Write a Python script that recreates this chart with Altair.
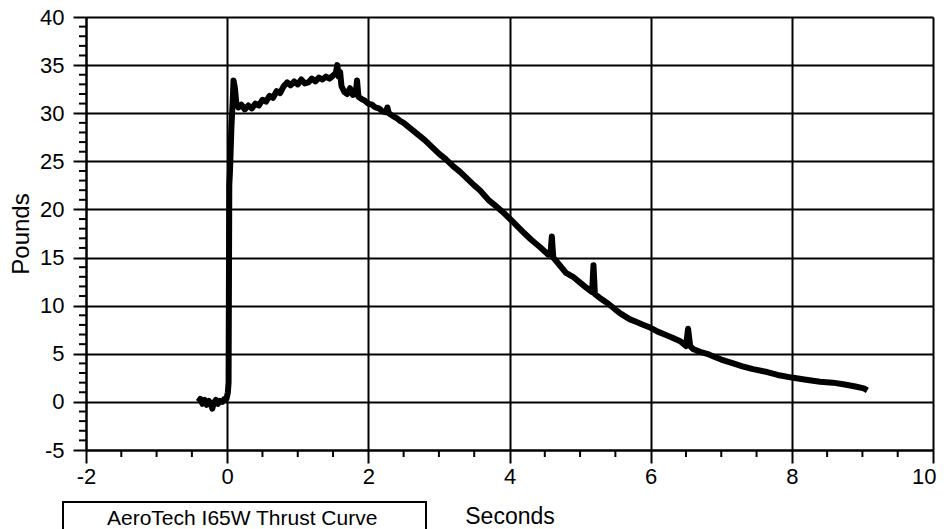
import altair as alt
import pandas as pd

# ---- data ----
seconds = [-0.41, -0.38, -0.35, -0.32, -0.29, -0.26, -0.23, -0.21, -0.19, -0.16, -0.13, -0.10, -0.07, -0.04, -0.01,
           0.01, 0.02, 0.03, 0.04, 0.06, 0.08, 0.09, 0.11, 0.13, 0.16,
           0.20, 0.25, 0.30, 0.35, 0.40, 0.45, 0.50, 0.55, 0.60, 0.65, 0.70, 0.75, 0.80, 0.85, 0.90, 0.95,
           1.00, 1.05, 1.10, 1.15, 1.20, 1.25, 1.30, 1.35, 1.40, 1.45, 1.50, 1.54, 1.56, 1.58, 1.60, 1.62,
           1.66, 1.70, 1.74, 1.78, 1.82, 1.84, 1.86, 1.90, 1.95, 2.00, 2.05, 2.10, 2.15, 2.20, 2.25, 2.27,
           2.29, 2.35, 2.40, 2.45, 2.50, 2.60, 2.70, 2.80, 2.90, 3.00, 3.10, 3.20, 3.30, 3.40, 3.50, 3.58,
           3.70, 3.80, 3.94, 4.05, 4.20, 4.30, 4.43, 4.55, 4.58, 4.60, 4.62, 4.70, 4.80, 4.90, 5.00, 5.10,
           5.17, 5.19, 5.21, 5.28, 5.40, 5.50, 5.57, 5.70, 5.80, 5.90, 6.00, 6.10, 6.20, 6.30, 6.42, 6.50,
           6.53, 6.56, 6.60, 6.70, 6.80, 6.90, 7.00, 7.17, 7.30, 7.45, 7.65, 7.80, 8.02, 8.20, 8.40, 8.58,
           8.75, 8.90, 9.02, 9.07]
pounds = [0.0, 0.3, -0.2, 0.2, -0.3, 0.1, -0.2, -0.7, -0.1, 0.2, -0.2, 0.1, 0.0, 0.3, 0.3,
          1.0, 2.0, 22.5, 24.0, 28.5, 31.5, 33.4, 32.6, 31.0, 30.6,
          30.9, 30.4, 30.8, 30.5, 31.0, 30.8, 31.4, 31.2, 31.8, 31.6, 32.3, 32.1, 32.8, 33.2, 32.9, 33.3,
          33.0, 33.5, 33.1, 33.2, 33.6, 33.3, 33.7, 33.5, 33.8, 33.6, 33.9, 34.2, 35.0, 33.8, 34.3, 32.8,
          32.2, 32.0, 32.6, 31.9, 32.0, 33.4, 31.7, 31.5, 31.3, 31.0, 30.9, 30.6, 30.5, 30.2, 30.1, 30.6,
          30.0, 29.7, 29.5, 29.2, 29.0, 28.4, 27.8, 27.2, 26.5, 25.8, 25.2, 24.5, 23.9, 23.2, 22.5, 22.0,
          21.0, 20.4, 19.5, 18.7, 17.6, 16.9, 16.1, 15.3, 15.4, 17.2, 15.0, 14.3, 13.4, 13.0, 12.4, 11.8,
          11.4, 14.2, 11.2, 10.8, 10.2, 9.6, 9.2, 8.6, 8.3, 8.0, 7.7, 7.3, 7.0, 6.7, 6.3, 5.8,
          7.6, 5.8, 5.5, 5.2, 5.0, 4.7, 4.4, 4.0, 3.7, 3.4, 3.1, 2.8, 2.5, 2.3, 2.1, 2.0,
          1.8, 1.6, 1.4, 1.2]

x_ticks = [-2, 0, 2, 4, 6, 8, 10]
y_ticks = [-5, 0, 5, 10, 15, 20, 25, 30, 35, 40]
x_minor = [-1.5, -1, -0.5, 0.5, 1, 1.5, 2.5, 3, 3.5, 4.5, 5, 5.5, 6.5, 7, 7.5, 8.5, 9, 9.5]
y_minor = [v for v in range(-4, 40) if v % 5 != 0]
legend_label = ["AeroTech I65W Thrust Curve"]

FONT = "Liberation Sans"
W, H = 847, 433

curve_df = pd.DataFrame({"t": seconds, "v": pounds})
xm_df = pd.DataFrame({"t": x_minor})
ym_df = pd.DataFrame({"v": y_minor})
lab_df = pd.DataFrame({"label": legend_label})

xscale = alt.Scale(domain=[-2, 10], nice=False, zero=False)
yscale = alt.Scale(domain=[-5, 40], nice=False, zero=False)

x_axis = alt.Axis(
    values=x_ticks, grid=True, gridColor="black", gridWidth=2, gridOpacity=1,
    domainColor="black", domainWidth=2, tickColor="black", tickWidth=2, tickSize=13,
    labelFont=FONT, labelFontSize=22, labelColor="black", labelPadding=3,
    labelExpr="datum.value + ''",
    labelAlign={"condition": {"test": "datum.value >= 10", "value": "right"}, "value": "center"},
    labelOffset={"condition": {"test": "datum.value >= 10", "value": 3}, "value": 0},
    title="Seconds", titleFont=FONT, titleFontSize=23, titleFontWeight="normal",
    titleColor="black", titleX=W / 2, titleY=73, titleBaseline="alphabetic", titleAlign="center",
)
y_axis = alt.Axis(
    values=y_ticks, grid=True, gridColor="black", gridWidth=2, gridOpacity=1,
    domainColor="black", domainWidth=2, tickColor="black", tickWidth=2, tickSize=13,
    labelFont=FONT, labelFontSize=22, labelColor="black", labelPadding=9,
    labelExpr="datum.value + ''", labelFlush=False,
    title="Pounds", titleFont=FONT, titleFontSize=24, titleFontWeight="normal",
    titleColor="black", titleX=-58, titleY=H / 2, titleAngle=270,
    titleBaseline="alphabetic", titleAlign="center",
)

curve = alt.Chart(curve_df).mark_line(color="black", strokeWidth=6, strokeJoin="round").encode(
    x=alt.X("t:Q", scale=xscale, axis=x_axis),
    y=alt.Y("v:Q", scale=yscale, axis=y_axis),
)

x_minor_ticks = alt.Chart(xm_df).mark_rule(color="black", strokeWidth=2).encode(
    x=alt.X("t:Q", scale=xscale, axis=x_axis),
    y=alt.value(H), y2=alt.value(H + 7),
)
y_minor_ticks = alt.Chart(ym_df).mark_rule(color="black", strokeWidth=2).encode(
    y=alt.Y("v:Q", scale=yscale, axis=y_axis),
    x=alt.value(-7), x2=alt.value(0),
)

box = alt.Chart(lab_df).mark_rect(fill="white", stroke="black", strokeWidth=2).encode(
    x=alt.value(-23), x2=alt.value(340), y=alt.value(485), y2=alt.value(540),
)
box_text = alt.Chart(lab_df).mark_text(
    align="left", baseline="alphabetic", font=FONT, fontSize=21, color="black"
).encode(
    x=alt.value(21), y=alt.value(508), text="label:N",
)

chart = alt.layer(curve, x_minor_ticks, y_minor_ticks, box, box_text).properties(
    width=W, height=H,
    padding={"left": 78, "top": 9, "right": 5, "bottom": 79},
    autosize=alt.AutoSizeParams(type="none"),
    background="white",
).configure_view(stroke=None)

chart.save("out.html", embed_options={"renderer": "svg", "actions": False})
